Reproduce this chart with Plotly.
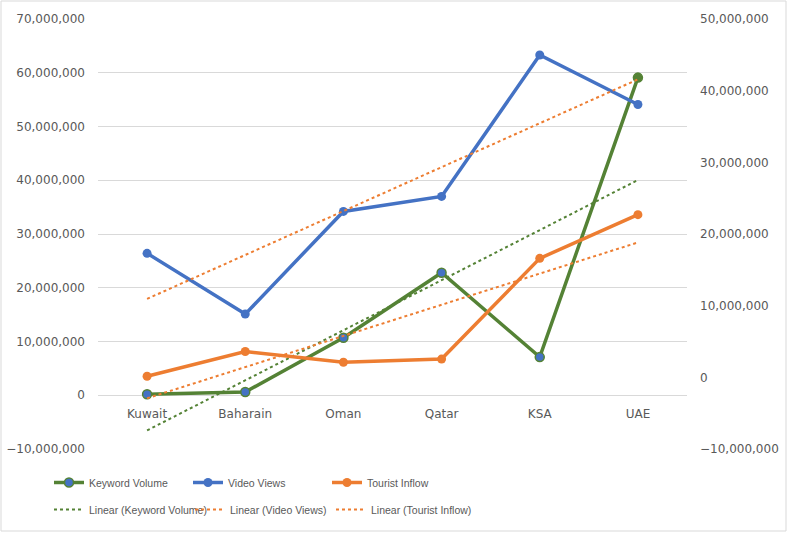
import numpy as np
import plotly.graph_objects as go

countries = ["Kuwait", "Baharain", "Oman", "Qatar", "KSA", "UAE"]
keyword_volume = [200000, 600000, 10700000, 22800000, 7100000, 59100000]
video_views = [26400000, 15100000, 34200000, 37000000, 63300000, 54100000]
tourist_inflow = [150000, 3600000, 2100000, 2550000, 16600000, 22700000]

green = "#548235"
blue = "#4472C4"
orange = "#ED7D31"


def trend(values):
    x = np.arange(len(values))
    slope, intercept = np.polyfit(x, values, 1)
    return slope * x + intercept


fig = go.Figure()

fig.add_trace(go.Scatter(
    x=countries, y=keyword_volume, name="Keyword Volume", mode="lines+markers",
    line=dict(color=green, width=3.5),
    marker=dict(size=9, color=[blue] * 5 + [green], line=dict(color=green, width=1.5)),
))
fig.add_trace(go.Scatter(
    x=countries, y=video_views, name="Video Views", mode="lines+markers",
    line=dict(color=blue, width=3.5), marker=dict(size=9, color=blue),
))
fig.add_trace(go.Scatter(
    x=countries, y=tourist_inflow, name="Tourist Inflow", mode="lines+markers",
    line=dict(color=orange, width=3.5), marker=dict(size=9, color=orange), yaxis="y2",
))
fig.add_trace(go.Scatter(
    x=countries, y=trend(keyword_volume), name="Linear (Keyword Volume)", mode="lines",
    line=dict(color=green, width=2, dash="dot"), legend="legend2",
))
fig.add_trace(go.Scatter(
    x=countries, y=trend(video_views), name="Linear (Video Views)", mode="lines",
    line=dict(color=orange, width=2, dash="dot"), legend="legend2",
))
fig.add_trace(go.Scatter(
    x=countries, y=trend(tourist_inflow), name="Linear (Tourist Inflow)", mode="lines",
    line=dict(color=orange, width=2, dash="dot"), yaxis="y2", legend="legend2",
))

tick_font = dict(family="DejaVu Sans", size=12, color="#595959")
legend_font = dict(family="Liberation Sans", size=10.5, color="#595959")

fig.update_layout(
    width=787, height=533,
    margin=dict(l=98, r=100, t=19, b=84, autoexpand=False),
    paper_bgcolor="white", plot_bgcolor="white",
    showlegend=True,
    legend=dict(
        orientation="h", x=(49 - 98) / 589, y=(449 - 468) / 430, xanchor="left", yanchor="top",
        font=legend_font, entrywidth=94, entrywidthmode="pixels", itemwidth=30,
    ),
    legend2=dict(
        orientation="h", x=(49 - 98) / 589, y=(449 - 495) / 430, xanchor="left", yanchor="top",
        font=legend_font, entrywidth=96, entrywidthmode="pixels", itemwidth=30,
    ),
    xaxis=dict(
        type="category", range=[-0.5, 5.5], showgrid=False, showline=False,
        ticks="", tickfont=tick_font, anchor="free", position=(449 - 395) / 430,
        ticklabelstandoff=10, automargin=False,
    ),
    yaxis=dict(
        range=[-10000000, 70000000], dtick=10000000, tickformat=",",
        showgrid=True, gridcolor="#D9D9D9", gridwidth=1, zeroline=False,
        tickfont=tick_font, ticks="", ticklabelstandoff=12, automargin=False,
    ),
    yaxis2=dict(
        range=[-10000000, 50000000], dtick=10000000, tickformat=",",
        overlaying="y", side="right", showgrid=False, zeroline=False,
        tickfont=tick_font, ticks="", ticklabelstandoff=12, automargin=False,
    ),
    shapes=[dict(
        type="rect", xref="paper", yref="paper",
        x0=(1 - 98) / 589, x1=(786 - 98) / 589,
        y0=(449 - 531) / 430, y1=(449 - 1) / 430,
        line=dict(color="#D9D9D9", width=1), layer="below",
    )],
)

fig.write_html("out.html", config={"displayModeBar": False},
               post_script="document.body.style.margin='0';")
